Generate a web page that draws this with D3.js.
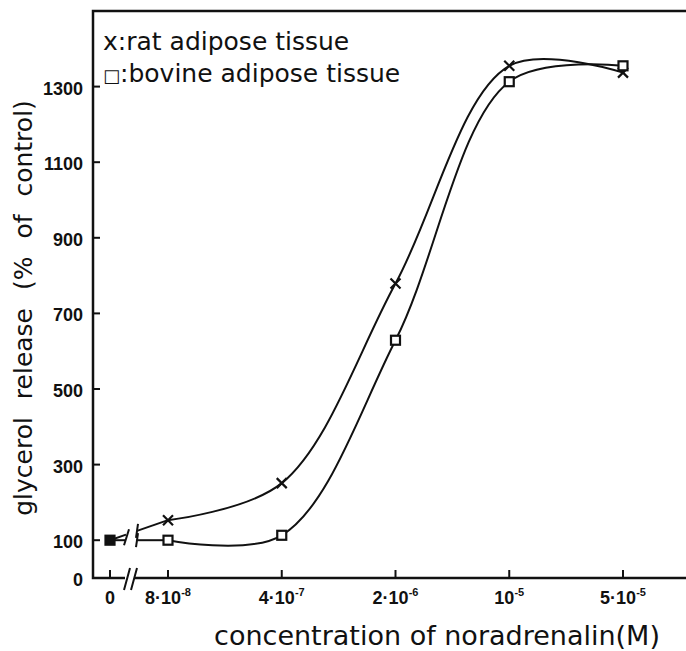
<!DOCTYPE html>
<html>
<head>
<meta charset="utf-8">
<script src="https://cdn.jsdelivr.net/npm/d3@7"></script>
<style>
    body { margin: 0; background: #fff; }
    svg { display: block; }
    .lbl { font-family: "DejaVu Sans", sans-serif; fill: #111; }
    .tick { font-family: "Liberation Sans", Arial, sans-serif; font-weight: bold; fill: #111; }
</style>
</head>
<body>
<svg id="chart" width="686" height="651"></svg>
<script>
    // concentrations of noradrenalin (M); control (0) handled separately
    var concentrations = [8e-8, 4e-7, 2e-6, 1e-5, 5e-5];
    var ratRelease = [153, 251, 779, 1355, 1337];
    var bovineRelease = [100, 113, 629, 1313, 1355];
    var controlRelease = 100;
    var yTicks = [0, 100, 300, 500, 700, 900, 1100, 1300];
    var xTickLabels = [
        { base: "0", exp: "" },
        { base: "8\u00b710", exp: "-8" },
        { base: "4\u00b710", exp: "-7" },
        { base: "2\u00b710", exp: "-6" },
        { base: "10", exp: "-5" },
        { base: "5\u00b710", exp: "-5" }
    ];

    (function () {
        var svg = d3.select("#chart");
        var left = 93, plotTop = 11, bottom = 578, right = 686;
        var zeroX = 110, breakL = 126, breakR = 137;

        var x = d3.scaleLog().domain([8e-8, 5e-5]).range([168, 623]);
        var y = d3.scaleLinear().domain([0, 1500]).range([bottom, plotTop]);

        var ink = "#111";

        // frame: left axis, top line, bottom axis with break
        var frame = svg.append("g").attr("stroke", ink).attr("stroke-width", 2.5).attr("fill", "none");
        frame.append("path").attr("d", "M" + right + "," + plotTop + "H" + left + "V" + bottom + "H" + (breakL - 1));
        frame.append("path").attr("d", "M" + (breakR - 2) + "," + bottom + "H" + right);
        frame.append("path").attr("stroke-width", 2).attr("d", "M124,590L130,568M131,590L137,568");

        // y ticks
        var yt = svg.append("g");
        yt.selectAll("line").data(yTicks.filter(function (d) { return d > 0; })).enter().append("line")
            .attr("x1", left).attr("x2", left + 7)
            .attr("y1", function (d) { return y(d); }).attr("y2", function (d) { return y(d); })
            .attr("stroke", ink).attr("stroke-width", 2);
        yt.selectAll("text").data(yTicks).enter().append("text")
            .attr("class", "tick")
            .attr("x", 83).attr("y", function (d) { return y(d) + 8; })
            .attr("text-anchor", "end").attr("font-size", 18)
            .text(function (d) { return d; });

        // x ticks
        var xPos = [zeroX].concat(concentrations.map(function (c) { return x(c); }));
        var xt = svg.append("g");
        xt.selectAll("line").data(xPos).enter().append("line")
            .attr("x1", function (d) { return d; }).attr("x2", function (d) { return d; })
            .attr("y1", bottom).attr("y2", bottom - 8)
            .attr("stroke", ink).attr("stroke-width", 2);
        var xl = xt.selectAll("text").data(xTickLabels).enter().append("text")
            .attr("class", "tick")
            .attr("x", function (d, i) { return xPos[i]; }).attr("y", 604)
            .attr("text-anchor", "middle").attr("font-size", 18);
        xl.append("tspan").text(function (d) { return d.base; });
        xl.append("tspan").attr("font-size", 11).attr("dy", -8).text(function (d) { return d.exp; });

        // curves
        var line = d3.line()
            .x(function (d) { return x(d.c); })
            .y(function (d) { return y(d.v); })
            .curve(d3.curveCatmullRom.alpha(0.5));
        function pts(vals) {
            return vals.map(function (v, i) { return { c: concentrations[i], v: v }; });
        }
        var series = [
            { name: "rat", values: ratRelease },
            { name: "bovine", values: bovineRelease }
        ];
        var curves = svg.append("g").attr("fill", "none").attr("stroke", ink).attr("stroke-width", 2);
        series.forEach(function (s) {
            curves.append("path").attr("d", line(pts(s.values)));
            // straight connection from control to first point, broken at the axis break
            var x0 = zeroX, y0 = y(controlRelease), x1 = x(concentrations[0]), y1 = y(s.values[0]);
            var at = function (px) { return y0 + (y1 - y0) * (px - x0) / (x1 - x0); };
            curves.append("path").attr("d", "M" + x0 + "," + y0 + "L" + breakL + "," + at(breakL));
            curves.append("path").attr("d", "M" + breakR + "," + at(breakR) + "L" + x1 + "," + y1);
            curves.append("path").attr("d", "M" + (breakR - 1) + "," + (at(breakR) + 7) + "L" + (breakR + 1) + "," + (at(breakR) - 7));
        });
        curves.append("path").attr("d", "M" + (breakL - 2) + "," + (y(controlRelease) + 5) + "L" + (breakL + 3) + "," + (y(controlRelease) - 11));

        // markers
        var marks = svg.append("g").attr("stroke", ink).attr("stroke-width", 2.2);
        marks.selectAll("path.cross").data(pts(ratRelease)).enter().append("path")
            .attr("class", "cross").attr("fill", "none")
            .attr("d", function (d) {
                var cx = x(d.c), cy = y(d.v), r = 5;
                return "M" + (cx - r) + "," + (cy - r) + "L" + (cx + r) + "," + (cy + r) +
                    "M" + (cx - r) + "," + (cy + r) + "L" + (cx + r) + "," + (cy - r);
            });
        marks.selectAll("rect.sq").data(pts(bovineRelease)).enter().append("rect")
            .attr("class", "sq").attr("fill", "#fff")
            .attr("x", function (d) { return x(d.c) - 4.5; })
            .attr("y", function (d) { return y(d.v) - 4.5; })
            .attr("width", 9).attr("height", 9);
        // control: both series coincide
        marks.append("rect").attr("fill", ink)
            .attr("x", zeroX - 4.5).attr("y", y(controlRelease) - 4.5)
            .attr("width", 9).attr("height", 9);

        // legend
        svg.append("text").attr("class", "lbl").attr("x", 103).attr("y", 50).attr("font-size", 25)
            .text("x:rat adipose tissue");
        var l2 = svg.append("text").attr("class", "lbl").attr("x", 103).attr("y", 82).attr("font-size", 25);
        l2.append("tspan").attr("font-size", 18).text("\u25a1");
        l2.append("tspan").text(":bovine adipose tissue");

        // axis titles
        svg.append("text").attr("class", "lbl")
            .attr("transform", "translate(32,308) rotate(-90)")
            .attr("text-anchor", "middle").attr("font-size", 25).attr("word-spacing", 10)
            .text("glycerol release (% of control)");
        svg.append("text").attr("class", "lbl")
            .attr("x", 437).attr("y", 645)
            .attr("text-anchor", "middle").attr("font-size", 27)
            .text("concentration of noradrenalin(M)");
    })();
</script>
</body>
</html>
